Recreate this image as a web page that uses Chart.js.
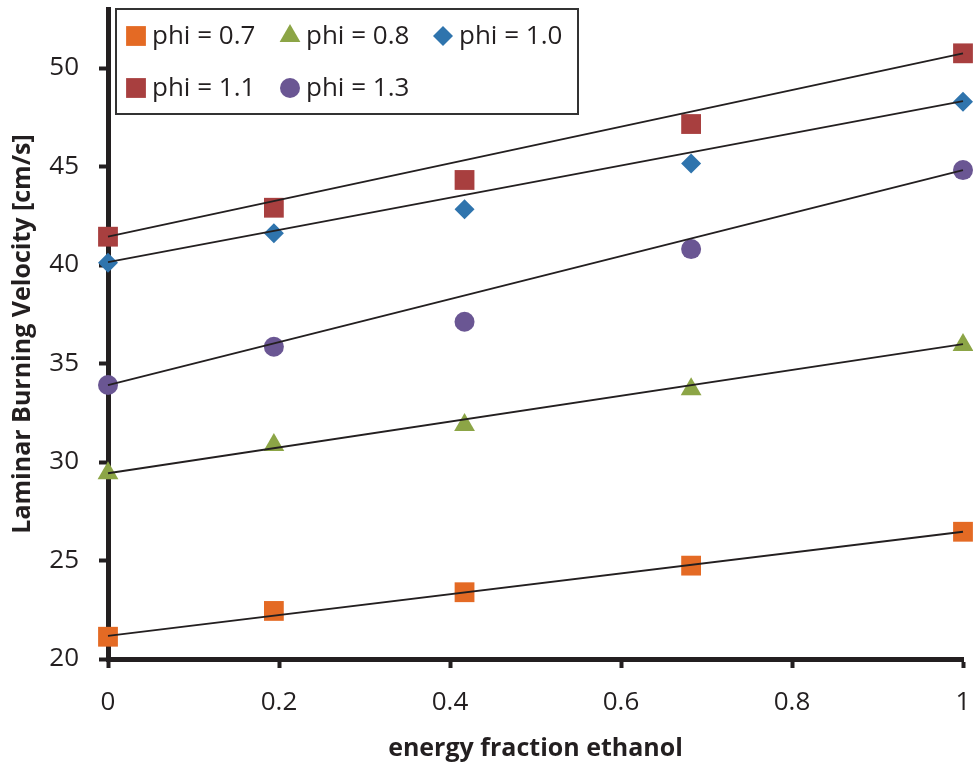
<!DOCTYPE html>
<html>
<head>
<meta charset="utf-8">
<script src="https://cdn.jsdelivr.net/npm/chart.js@4/dist/chart.umd.min.js"></script>
<style>
  html, body { margin: 0; padding: 0; background: #fff; }
  #wrap { width: 973px; height: 767px; }
</style>
</head>
<body>
<div id="wrap"><canvas id="burnChart" width="973" height="767"></canvas></div>
<script>
// energy fraction of ethanol for each measurement
const xFrac = [0, 0.194, 0.417, 0.682, 1];

// laminar burning velocity [cm/s], one list per equivalence ratio
const phi07 = [21.13, 22.44, 23.39, 24.74, 26.46];
const phi08 = [29.43, 30.86, 31.88, 33.69, 35.94];
const phi10 = [40.12, 41.61, 42.83, 45.16, 48.29];
const phi11 = [41.44, 42.91, 44.32, 47.16, 50.75];
const phi13 = [33.91, 35.85, 37.12, 40.81, 44.82];

// linear trend line end values at x = 0 and x = 1
const fitX = [0, 1];
const fit07 = [21.17, 26.46];
const fit08 = [29.43, 35.99];
const fit10 = [40.15, 48.32];
const fit11 = [41.44, 50.75];
const fit13 = [33.9, 44.82];

const seriesLabels = ['phi = 0.7', 'phi = 0.8', 'phi = 1.0', 'phi = 1.1', 'phi = 1.3'];
const xTicks = [0, 0.2, 0.4, 0.6, 0.8, 1];
const yTicks = [20, 25, 30, 35, 40, 45, 50];

const ink = '#231F20';
const txtFont = '"Open Sans", "Liberation Sans", sans-serif';

const pts = ys => ys.map((y, i) => ({ x: xFrac[i], y: y }));
const fitPts = ys => ys.map((y, i) => ({ x: fitX[i], y: y }));

const markerSets = [
    { label: seriesLabels[0], data: pts(phi07), color: '#E46A24', style: 'rect', r: 14 },
    { label: seriesLabels[1], data: pts(phi08), color: '#8CA546', style: 'triangle', r: 12 },
    { label: seriesLabels[2], data: pts(phi10), color: '#2F74AD', style: 'rectRot', r: 10 },
    { label: seriesLabels[3], data: pts(phi11), color: '#A83F3F', style: 'rect', r: 14 },
    { label: seriesLabels[4], data: pts(phi13), color: '#6A5693', style: 'circle', r: 10 }
];

const fits = [fit07, fit08, fit10, fit11, fit13];

const datasets = [];
markerSets.forEach(s => {
    datasets.push({
        type: 'scatter',
        label: s.label,
        data: s.data,
        pointStyle: s.style,
        pointRadius: s.r,
        pointHoverRadius: s.r,
        pointBackgroundColor: s.color,
        pointBorderColor: s.color,
        pointBorderWidth: 0,
        showLine: false,
        clip: false,
        order: 2
    });
});
fits.forEach(f => {
    datasets.push({
        type: 'line',
        label: 'trend',
        data: fitPts(f),
        borderColor: ink,
        borderWidth: 1.8,
        pointRadius: 0,
        fill: false,
        clip: false,
        order: 1
    });
});

// legend box drawn inside the plot, top-left
const boxLegend = {
    id: 'boxLegend',
    afterDraw(chart) {
        const ctx = chart.ctx;
        const left = 116, top = 9, w = 462, h = 105;
        ctx.save();
        ctx.fillStyle = '#fff';
        ctx.fillRect(left, top, w, h);
        ctx.strokeStyle = '#333';
        ctx.lineWidth = 2;
        ctx.strokeRect(left, top, w, h);
        const cols = [136, 290, 443];
        const rows = [36, 88];
        ctx.font = '26px ' + txtFont;
        ctx.textBaseline = 'middle';
        markerSets.forEach((s, i) => {
            const cx = cols[i % 3], cy = rows[Math.floor(i / 3)];
            ctx.fillStyle = s.color;
            ctx.strokeStyle = s.color;
            Chart.helpers.drawPoint(ctx, { pointStyle: s.style, radius: s.r, borderWidth: 0, rotation: 0 }, cx, cy);
            ctx.fillStyle = ink;
            ctx.fillText(s.label, cx + 16, cy + 1);
        });
        ctx.restore();
    }
};

new Chart(document.getElementById('burnChart'), {
    type: 'scatter',
    data: { datasets: datasets },
    plugins: [boxLegend],
    options: {
        responsive: false,
        animation: false,
        devicePixelRatio: 1,
        layout: { autoPadding: false, padding: { left: 0, top: 9, right: 10, bottom: 0 } },
        plugins: {
            legend: { display: false },
            tooltip: { enabled: false }
        },
        scales: {
            x: {
                type: 'linear',
                min: 0,
                max: 1,
                afterFit: s => { s.height = 108; s.paddingLeft = 0; s.paddingRight = 0; },
                afterBuildTicks: s => { s.ticks = xTicks.map(v => ({ value: v })); },
                border: { display: true, color: ink, width: 5 },
                grid: { drawOnChartArea: false, drawTicks: true, tickLength: 9, tickWidth: 4, tickColor: ink },
                ticks: {
                    color: ink,
                    padding: 19,
                    maxRotation: 0,
                    font: { family: txtFont, size: 26 },
                    callback: v => String(v)
                },
                title: {
                    display: true,
                    text: 'energy fraction ethanol',
                    color: ink,
                    font: { family: txtFont, size: 25, weight: 'bold' },
                    padding: { top: 0, bottom: 3 }
                }
            },
            y: {
                type: 'linear',
                min: 20,
                max: 53,
                afterFit: s => { s.width = 108; s.paddingTop = 0; s.paddingBottom = 0; },
                afterBuildTicks: s => { s.ticks = yTicks.map(v => ({ value: v })); },
                border: { display: true, color: ink, width: 5 },
                grid: { drawOnChartArea: false, drawTicks: true, tickLength: 9, tickWidth: 4, tickColor: ink },
                ticks: {
                    color: ink,
                    padding: 20,
                    font: { family: txtFont, size: 26 },
                    callback: v => String(v)
                },
                title: {
                    display: true,
                    text: 'Laminar Burning Velocity [cm/s]',
                    color: ink,
                    font: { family: txtFont, size: 25, weight: 'bold' },
                    padding: { top: 8, bottom: 0 }
                }
            }
        }
    }
});
</script>
</body>
</html>
